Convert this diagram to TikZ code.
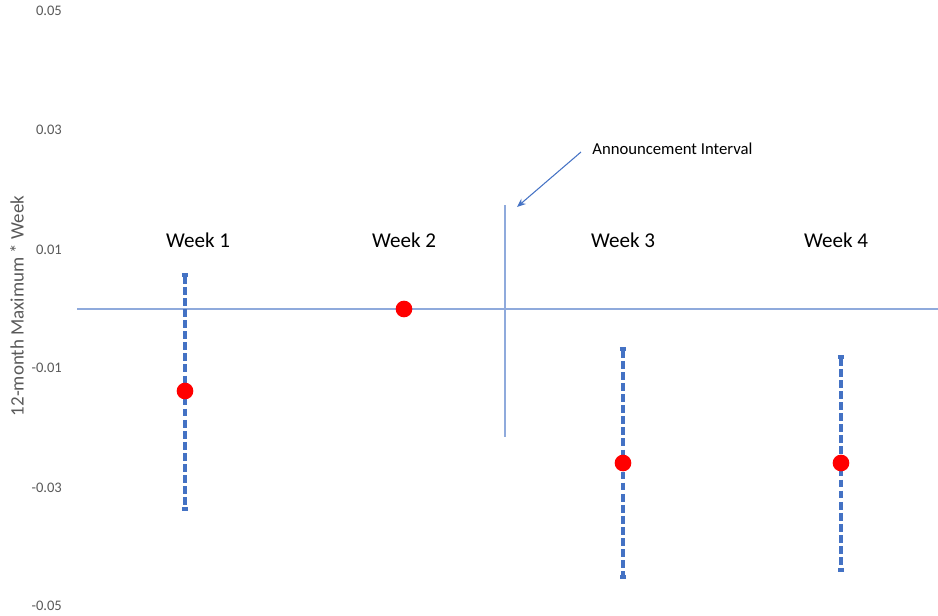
\documentclass[tikz,border=0pt]{standalone}
\usepackage{fontspec}
\setmainfont{Carlito}
\usetikzlibrary{arrows.meta}
\definecolor{BarBlue}{RGB}{68,114,196}
\definecolor{AxisBlue}{RGB}{143,170,220}
\definecolor{TickGray}{RGB}{89,89,89}
\definecolor{DotRed}{RGB}{255,0,0}

\begin{document}
\begin{tikzpicture}[x=0.02cm, y=-0.02cm,
          tick/.style={anchor=east, text=TickGray, font=\fontsize{8.3}{10}\selectfont, inner sep=1pt},
          wk/.style={font=\fontsize{12}{14}\selectfont, inner sep=0pt},
          errbar/.style={draw=BarBlue, line width=2.2pt, dash pattern=on 4.4pt off 1.9pt,
                         {Bar[width=3.6pt]}-{Bar[width=3.6pt]}},
          dot/.style={circle, fill=DotRed, inner sep=0pt, minimum size=9.5pt},
          ref/.style={draw=AxisBlue, line width=0.75pt}
        ]
        \useasboundingbox (0,0) rectangle (938,616);

        % value axis
        \foreach \v/\y in {0.05/11, 0.03/130, 0.01/250, -0.01/368, -0.03/488, -0.05/606}
          \node[tick] at (64,\y) {\v};
        \node[rotate=90, text=TickGray, font=\fontsize{10.8}{13}\selectfont]
              (ytitle) at (17,306) {12-month Maximum * Week};

        % zero line and announcement interval
        \coordinate (axl) at (77,309);
        \coordinate (axr) at (938,309);
        \coordinate (anntop) at (505,205);
        \coordinate (annbot) at (505,437);
        \draw[ref] (axl) -- (axr);
        \draw[ref] (anntop) -- (annbot);

        \node[anchor=west, font=\fontsize{9.5}{11}\selectfont, inner sep=0pt]
              (annlab) at (592,149) {Announcement Interval};
        \coordinate (annfrom) at (581,152);
        \coordinate (annto) at (517,207);
        \draw[BarBlue, line width=0.6pt, -{Stealth[length=5pt, width=4pt]}] (annfrom) -- (annto);

        % week labels
        \node[wk] (lab1) at (198,240) {Week 1};
        \node[wk] (lab2) at (404,240) {Week 2};
        \node[wk] (lab3) at (623,240) {Week 3};
        \node[wk] (lab4) at (836,240) {Week 4};

        % confidence intervals
        \coordinate (w1top) at (185,273);
        \coordinate (w1bot) at (185,511);
        \coordinate (w3top) at (623,347);
        \coordinate (w3bot) at (623,579);
        \coordinate (w4top) at (841,355);
        \coordinate (w4bot) at (841,572);
        \draw[errbar] (w1top) -- (w1bot);
        \draw[errbar] (w3top) -- (w3bot);
        \draw[errbar] (w4top) -- (w4bot);

        % point estimates
        \node[dot] (est1) at (185,391) {};
        \node[dot] (est2) at (404,309) {};
        \node[dot] (est3) at (623,463) {};
        \node[dot] (est4) at (841,463) {};
      \end{tikzpicture}
\end{document}
